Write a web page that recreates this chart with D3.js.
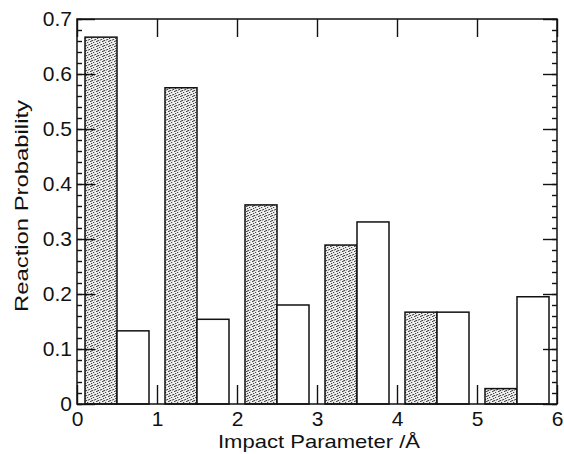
<!DOCTYPE html>
<html lang="en">
<head>
    <meta charset="UTF-8">
    <title>Reaction Probability</title>
    <script src="https://d3js.org/d3.v7.min.js"></script>
    <style>
        body { margin: 0; background: #fff; }
        text { font-family: "Liberation Sans", Arial, sans-serif; fill: #111; }
    </style>
</head>
<body>
    <script>
        // bin start of each impact parameter interval (Å)
        var binStarts = [0, 1, 2, 3, 4, 5];
        // stippled bars (left half of each bin)
        var shadedValues = [0.667, 0.575, 0.362, 0.289, 0.167, 0.028];
        // open bars (right half of each bin)
        var openValues = [0.133, 0.154, 0.180, 0.331, 0.167, 0.195];
        var xTickValues = [0, 1, 2, 3, 4, 5, 6];
        var yTickValues = [0, 0.1, 0.2, 0.3, 0.4, 0.5, 0.6, 0.7];

        var width = 564, height = 454;
        var margin = { top: 19, right: 7, bottom: 50, left: 77 };
        var w = width - margin.left - margin.right,
            h = height - margin.top - margin.bottom;

        var svg = d3.select('body').append('svg')
            .attr('width', width).attr('height', height);

        // stipple texture for the shaded bars
        var pat = svg.append('defs').append('pattern')
            .attr('id', 'stipple')
            .attr('patternUnits', 'userSpaceOnUse')
            .attr('width', 6).attr('height', 5);
        pat.append('rect').attr('width', 6).attr('height', 5).attr('fill', '#eeeeee');
        [[0, 0], [3, 1], [1, 2], [4, 3], [2, 4], [5, 0.5], [2, 1.5]].forEach(function (p) {
            pat.append('rect').attr('x', p[0]).attr('y', p[1])
                .attr('width', 1.2).attr('height', 0.9).attr('fill', '#333');
        });

        var g = svg.append('g').attr('transform', 'translate(' + margin.left + ',' + margin.top + ')');

        var x = d3.scaleLinear().domain([0, 6]).range([0, w]);
        var y = d3.scaleLinear().domain([0, 0.7]).range([h, 0]);

        var minorY = d3.range(0, 0.7001, 0.02).map(function (d) { return +d.toFixed(2); });

        // minor ticks (left and right)
        g.append('g').attr('class', 'axis')
            .call(d3.axisLeft(y).tickValues(minorY).tickSize(-5).tickFormat(''));
        g.append('g').attr('class', 'axis').attr('transform', 'translate(' + w + ',0)')
            .call(d3.axisRight(y).tickValues(minorY).tickSize(-5).tickFormat(''));

        // bars
        g.selectAll('.shaded').data(binStarts).join('rect')
            .attr('class', 'shaded')
            .attr('x', function (d) { return x(d + 0.1); })
            .attr('width', function (d) { return x(d + 0.5) - x(d + 0.1); })
            .attr('y', function (d, i) { return y(shadedValues[i]); })
            .attr('height', function (d, i) { return y(0) - y(shadedValues[i]); })
            .attr('fill', 'url(#stipple)')
            .attr('stroke', '#111').attr('stroke-width', 1.5);

        g.selectAll('.open').data(binStarts).join('rect')
            .attr('class', 'open')
            .attr('x', function (d) { return x(d + 0.5); })
            .attr('width', function (d) { return x(d + 0.9) - x(d + 0.5); })
            .attr('y', function (d, i) { return y(openValues[i]); })
            .attr('height', function (d, i) { return y(0) - y(openValues[i]); })
            .attr('fill', '#fff')
            .attr('stroke', '#111').attr('stroke-width', 1.5);

        // major ticks
        g.append('g').attr('class', 'axis')
            .call(d3.axisLeft(y).tickValues(yTickValues).tickSize(-18).tickPadding(5)
                .tickFormat(function (d) { return d === 0 ? '0' : d3.format('.1f')(d); }));
        g.append('g').attr('class', 'axis').attr('transform', 'translate(' + w + ',0)')
            .call(d3.axisRight(y).tickValues(yTickValues).tickSize(-14).tickFormat(''));
        g.append('g').attr('class', 'axis').attr('transform', 'translate(0,' + h + ')')
            .call(d3.axisBottom(x).tickValues(xTickValues).tickSize(-19).tickPadding(7)
                .tickFormat(d3.format('d')));
        g.append('g').attr('class', 'axis')
            .call(d3.axisTop(x).tickValues(xTickValues).tickSize(-18).tickFormat(''));

        g.selectAll('.axis .domain').remove();
        g.selectAll('.axis line').attr('stroke', '#111').attr('stroke-width', 1.4);
        g.selectAll('.axis text').attr('font-size', 21)
            .attr('font-family', '"Liberation Sans", Arial, sans-serif').attr('fill', '#111');

        // frame
        g.append('rect').attr('width', w).attr('height', h)
            .attr('fill', 'none').attr('stroke', '#111').attr('stroke-width', 1.5);

        // axis titles
        svg.append('text')
            .attr('x', 319).attr('y', 448)
            .attr('text-anchor', 'middle').attr('font-size', 19)
            .attr('textLength', 202).attr('lengthAdjust', 'spacingAndGlyphs')
            .text('Impact Parameter /Å');
        svg.append('text')
            .attr('transform', 'translate(28,206) rotate(-90)')
            .attr('text-anchor', 'middle').attr('font-size', 19)
            .attr('textLength', 212).attr('lengthAdjust', 'spacingAndGlyphs')
            .text('Reaction Probability');
    </script>
</body>
</html>
